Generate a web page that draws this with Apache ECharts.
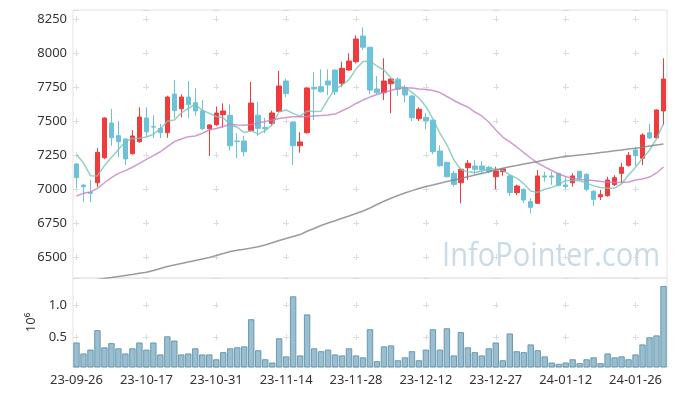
<!DOCTYPE html>
<html>
<head>
<meta charset="utf-8">
<script src="https://cdn.jsdelivr.net/npm/echarts@6/dist/echarts.min.js"></script>
<style>
html,body{margin:0;padding:0;background:#fff;}
#chart{width:677px;height:396px;}
</style>
</head>
<body>
<div id="chart"></div>
<script>
var dates = ['23-09-26','23-09-27','23-10-04','23-10-05','23-10-06','23-10-10','23-10-11','23-10-12','23-10-13','23-10-16',
'23-10-17','23-10-18','23-10-19','23-10-20','23-10-23','23-10-24','23-10-25','23-10-26','23-10-27','23-10-30',
'23-10-31','23-11-01','23-11-02','23-11-03','23-11-06','23-11-07','23-11-08','23-11-09','23-11-10','23-11-13',
'23-11-14','23-11-15','23-11-16','23-11-17','23-11-20','23-11-21','23-11-22','23-11-23','23-11-24','23-11-27',
'23-11-28','23-11-29','23-11-30','23-12-01','23-12-04','23-12-05','23-12-06','23-12-07','23-12-08','23-12-11',
'23-12-12','23-12-13','23-12-14','23-12-15','23-12-18','23-12-19','23-12-20','23-12-21','23-12-22','23-12-26',
'23-12-27','23-12-28','24-01-02','24-01-03','24-01-04','24-01-05','24-01-08','24-01-09','24-01-10','24-01-11',
'24-01-12','24-01-15','24-01-16','24-01-17','24-01-18','24-01-19','24-01-22','24-01-23','24-01-24','24-01-25',
'24-01-26','24-01-29','24-01-30','24-01-31','24-02-01'];

var openP = [7184,7029,6975,7046,7230,7485,7392,7368,7260,7348, 7522,7460,7446,7414,7698,7590,7676,7635,7574,7443,
7473,7546,7542,7353,7353,7429,7542,7452,7483,7571, 7794,7493,7318,7414,7748,7752,7794,7875,7777,7875,
7936,8125,8042,7735,7708,7774,7807,7745,7684,7517, 7527,7507,7279,7196,7115,7046,7157,7169,7169,7160,
7090,7127,7096,6973,6998,6907,6895,7096,7096,7115, 7030,7046,7130,7108,6983,6943,6951,7032,7115,7174,
7287,7226,7414,7377,7574];
var closeP = [7083,7017,6968,7270,7522,7377,7348,7221,7390,7529, 7421,7455,7414,7676,7576,7676,7620,7574,7443,7471,
7559,7574,7318,7349,7274,7632,7446,7444,7559,7757, 7701,7318,7346,7743,7736,7715,7765,7715,7887,7941,
8103,8042,7728,7708,7794,7809,7733,7691,7524,7586, 7502,7274,7171,7090,7034,7145,7189,7145,7140,7127,
7132,7147,6973,7022,6919,6865,7096,7088,7088,7025, 7018,7096,7079,6998,6924,6958,7066,7083,7160,7248,
7245,7397,7375,7581,7809];
var highP = [7190,7035,7066,7301,7525,7588,7500,7372,7432,7601, 7601,7542,7478,7686,7801,7696,7794,7740,7654,7475,
7607,7630,7623,7410,7390,7787,7640,7522,7576,7868, 7811,7495,7417,7748,7860,7880,7880,7878,7936,7998,
8130,8189,8045,7831,7961,7812,7821,7765,7688,7601, 7561,7510,7321,7200,7135,7150,7213,7213,7206,7171,
7164,7152,7108,7032,7003,6932,7140,7127,7127,7118, 7090,7115,7135,7115,6993,6993,7090,7101,7193,7272,
7311,7410,7478,7586,7961];
var lowP = [7007,6904,6904,7015,7220,7318,7233,7176,7252,7340, 7382,7375,7375,7377,7522,7527,7520,7539,7434,7243,
7465,7451,7282,7226,7240,7421,7390,7410,7468,7566, 7674,7176,7267,7408,7507,7710,7691,7691,7752,7868,
7924,8022,7699,7699,7654,7557,7684,7635,7500,7500, 7439,7255,7164,7085,7017,6895,7066,7110,7110,7115,
6998,7098,6949,6956,6895,6821,6890,7054,7030,7020, 7002,7017,7064,6983,6875,6919,6943,7022,7046,7164,
7169,7176,7370,7370,7471];

var ma5 = [7255,7191,7098,7096,7172,7231,7290,7348,7372,7373, 7382,7403,7442,7499,7508,7559,7592,7624,7578,7557,
7533,7524,7473,7454,7415,7429,7404,7429,7471,7568, 7581,7556,7536,7573,7569,7572,7661,7735,7764,7805,
7882,7938,7940,7904,7875,7816,7754,7747,7710,7669, 7607,7515,7411,7325,7214,7143,7126,7121,7131,7149,
7147,7138,7104,7080,7039,6985,6975,6998,7011,7032, 7063,7063,7061,7043,7023,7011,7005,7006,7038,7103,
7160,7227,7285,7369,7481];
var ma20 = [6949,6968,6978,7005,7046,7083,7115,7135,7160,7189, 7218,7245,7274,7311,7348,7368,7385,7390,7410,7434,
7445,7460,7476,7471,7468,7474,7485,7496,7507,7518, 7526,7532,7532,7533,7537,7540,7544,7551,7575,7599,
7629,7654,7676,7695,7709,7724,7739,7745,7743,7735, 7732,7724,7709,7680,7651,7625,7603,7566,7537,7493,
7434,7382,7346,7309,7268,7228,7191,7162,7136,7110, 7092,7077,7070,7066,7063,7055,7051,7048,7048,7051,
7066,7074,7088,7118,7162];
var maLong = [6312,6320,6327,6335,6342,6349,6357,6364,6371,6380, 6388,6401,6415,6430,6441,6452,6463,6474,6485,6496,
6511,6526,6540,6549,6557,6566,6576,6588,6605,6621, 6636,6651,6665,6689,6710,6732,6750,6767,6785,6801,
6820,6838,6860,6886,6910,6932,6952,6971,6988,7004, 7018,7029,7042,7055,7066,7077,7090,7103,7114,7127,
7140,7152,7164,7173,7184,7193,7202,7213,7223,7232, 7239,7245,7250,7255,7261,7268,7274,7281,7287,7294,
7300,7307,7316,7324,7331];

var volume = [0.42,0.25,0.31,0.61,0.345,0.41,0.33,0.25,0.33,0.42, 0.31,0.42,0.235,0.515,0.45,0.235,0.25,0.33,0.235,0.235,
0.16,0.27,0.33,0.345,0.36,0.78,0.30,0.16,0.11,0.485, 0.205,1.135,0.22,0.855,0.33,0.285,0.31,0.235,0.22,0.33,
0.22,0.19,0.625,0.13,0.36,0.375,0.145,0.19,0.285,0.145, 0.31,0.625,0.31,0.64,0.22,0.58,0.345,0.27,0.22,0.33,
0.42,0.145,0.56,0.285,0.27,0.39,0.30,0.205,0.11,0.09, 0.11,0.16,0.10,0.16,0.19,0.10,0.25,0.19,0.205,0.16,
0.235,0.39,0.50,0.53,1.295];

var priceTicks = [6500,6750,7000,7250,7500,7750,8000,8250];
var volumeTicks = [0.5,1.0];

var candles = openP.map(function (o, i) { return [o, closeP[i], lowP[i], highP[i]]; });

var FONT = '"Noto Sans", "Open Sans", sans-serif';
var chart = echarts.init(document.getElementById('chart'), null, {renderer: 'canvas'});
var option = {
  animation: false,
  backgroundColor: '#fff',
  textStyle: {fontFamily: FONT},
  grid: [
    {left: 73, right: 10, top: 10, height: 268, show: true, borderColor: '#e3e3e3', borderWidth: 1, backgroundColor: 'transparent'},
    {left: 73, right: 10, top: 278, height: 89, show: true, borderColor: '#e3e3e3', borderWidth: 1, backgroundColor: 'transparent'}
  ],
  xAxis: [
    {type: 'category', gridIndex: 0, data: dates, boundaryGap: true,
     axisLine: {show: false}, axisTick: {show: false}, axisLabel: {show: false},
     splitLine: {show: true, interval: 9, alignWithLabel: true, lineStyle: {color: '#dcdcdc', width: 1, type: [6, 28], dashOffset: 28}}},
    {type: 'category', gridIndex: 1, data: dates, boundaryGap: true,
     axisLine: {show: false}, axisTick: {show: false},
     axisLabel: {interval: 9, color: '#333', fontSize: 13, fontFamily: FONT, margin: 7},
     splitLine: {show: true, interval: 9, alignWithLabel: true, lineStyle: {color: '#dcdcdc', width: 1, type: [6, 26.3], dashOffset: 8.3}}}
  ],
  yAxis: [
    {type: 'value', gridIndex: 0, min: 6345.6, max: 8316.2, minInterval: 250, maxInterval: 250, scale: true,
     axisLine: {show: false}, axisTick: {show: false},
     axisLabel: {color: '#333', fontSize: 13, fontFamily: FONT, margin: 6, showMinLabel: false, showMaxLabel: false,
       formatter: function (v) { return priceTicks.indexOf(Math.round(v)) >= 0 && Math.abs(v - Math.round(v)) < 0.01 ? String(Math.round(v)) : ''; }},
     splitLine: {show: true, lineStyle: {color: '#dcdcdc', width: 1, type: [6, 64], dashOffset: 0}}},
    {type: 'value', gridIndex: 1, min: 0.04, max: 1.418, minInterval: 0.5, maxInterval: 0.5,
     name: '10\u2076', nameLocation: 'middle', nameRotate: 90, nameGap: 31,
     nameTextStyle: {color: '#333', fontSize: 13, fontFamily: FONT},
     axisLine: {show: false}, axisTick: {show: false},
     axisLabel: {color: '#333', fontSize: 13, fontFamily: FONT, margin: 6, showMinLabel: false, showMaxLabel: false,
       formatter: function (v) { var r = Math.round(v * 10) / 10; return volumeTicks.indexOf(r) >= 0 && Math.abs(v - r) < 1e-6 ? r.toFixed(1) : ''; }},
     splitLine: {show: true, lineStyle: {color: '#dcdcdc', width: 1, type: [6, 64], dashOffset: 0}}}
  ],
  graphic: [
    {type: 'text', left: 442, top: 241, silent: true, z: 0, scaleX: 0.91,
     style: {text: 'InfoPointer.com', fill: 'rgba(170,200,216,0.65)', font: '32px "Open Sans", "Noto Sans", sans-serif'}}
  ],
  series: [
    {type: 'candlestick', name: 'price', xAxisIndex: 0, yAxisIndex: 0, data: candles, barWidth: 5, z: 2,
     itemStyle: {color: '#ee3b3e', color0: '#6cc2d8', borderColor: '#ee3b3e', borderColor0: '#6cc2d8', borderWidth: 1}},
    {type: 'line', name: 'MA5', xAxisIndex: 0, yAxisIndex: 0, data: ma5, symbol: 'none', z: 3,
     lineStyle: {color: 'rgba(120,196,182,0.8)', width: 1.5}},
    {type: 'line', name: 'MA20', xAxisIndex: 0, yAxisIndex: 0, data: ma20, symbol: 'none', z: 3,
     lineStyle: {color: 'rgba(196,130,194,0.8)', width: 1.5}},
    {type: 'line', name: 'MA', xAxisIndex: 0, yAxisIndex: 0, data: maLong, symbol: 'none', z: 3,
     lineStyle: {color: 'rgba(130,130,130,0.8)', width: 1.5}},
    {type: 'bar', name: 'volume', xAxisIndex: 1, yAxisIndex: 1, data: volume, barCategoryGap: '8%',
     itemStyle: {color: 'rgba(125,172,194,0.78)', borderColor: 'rgba(95,148,172,0.9)', borderWidth: 1}}
  ]
};
chart.setOption(option);
</script>
</body>
</html>
